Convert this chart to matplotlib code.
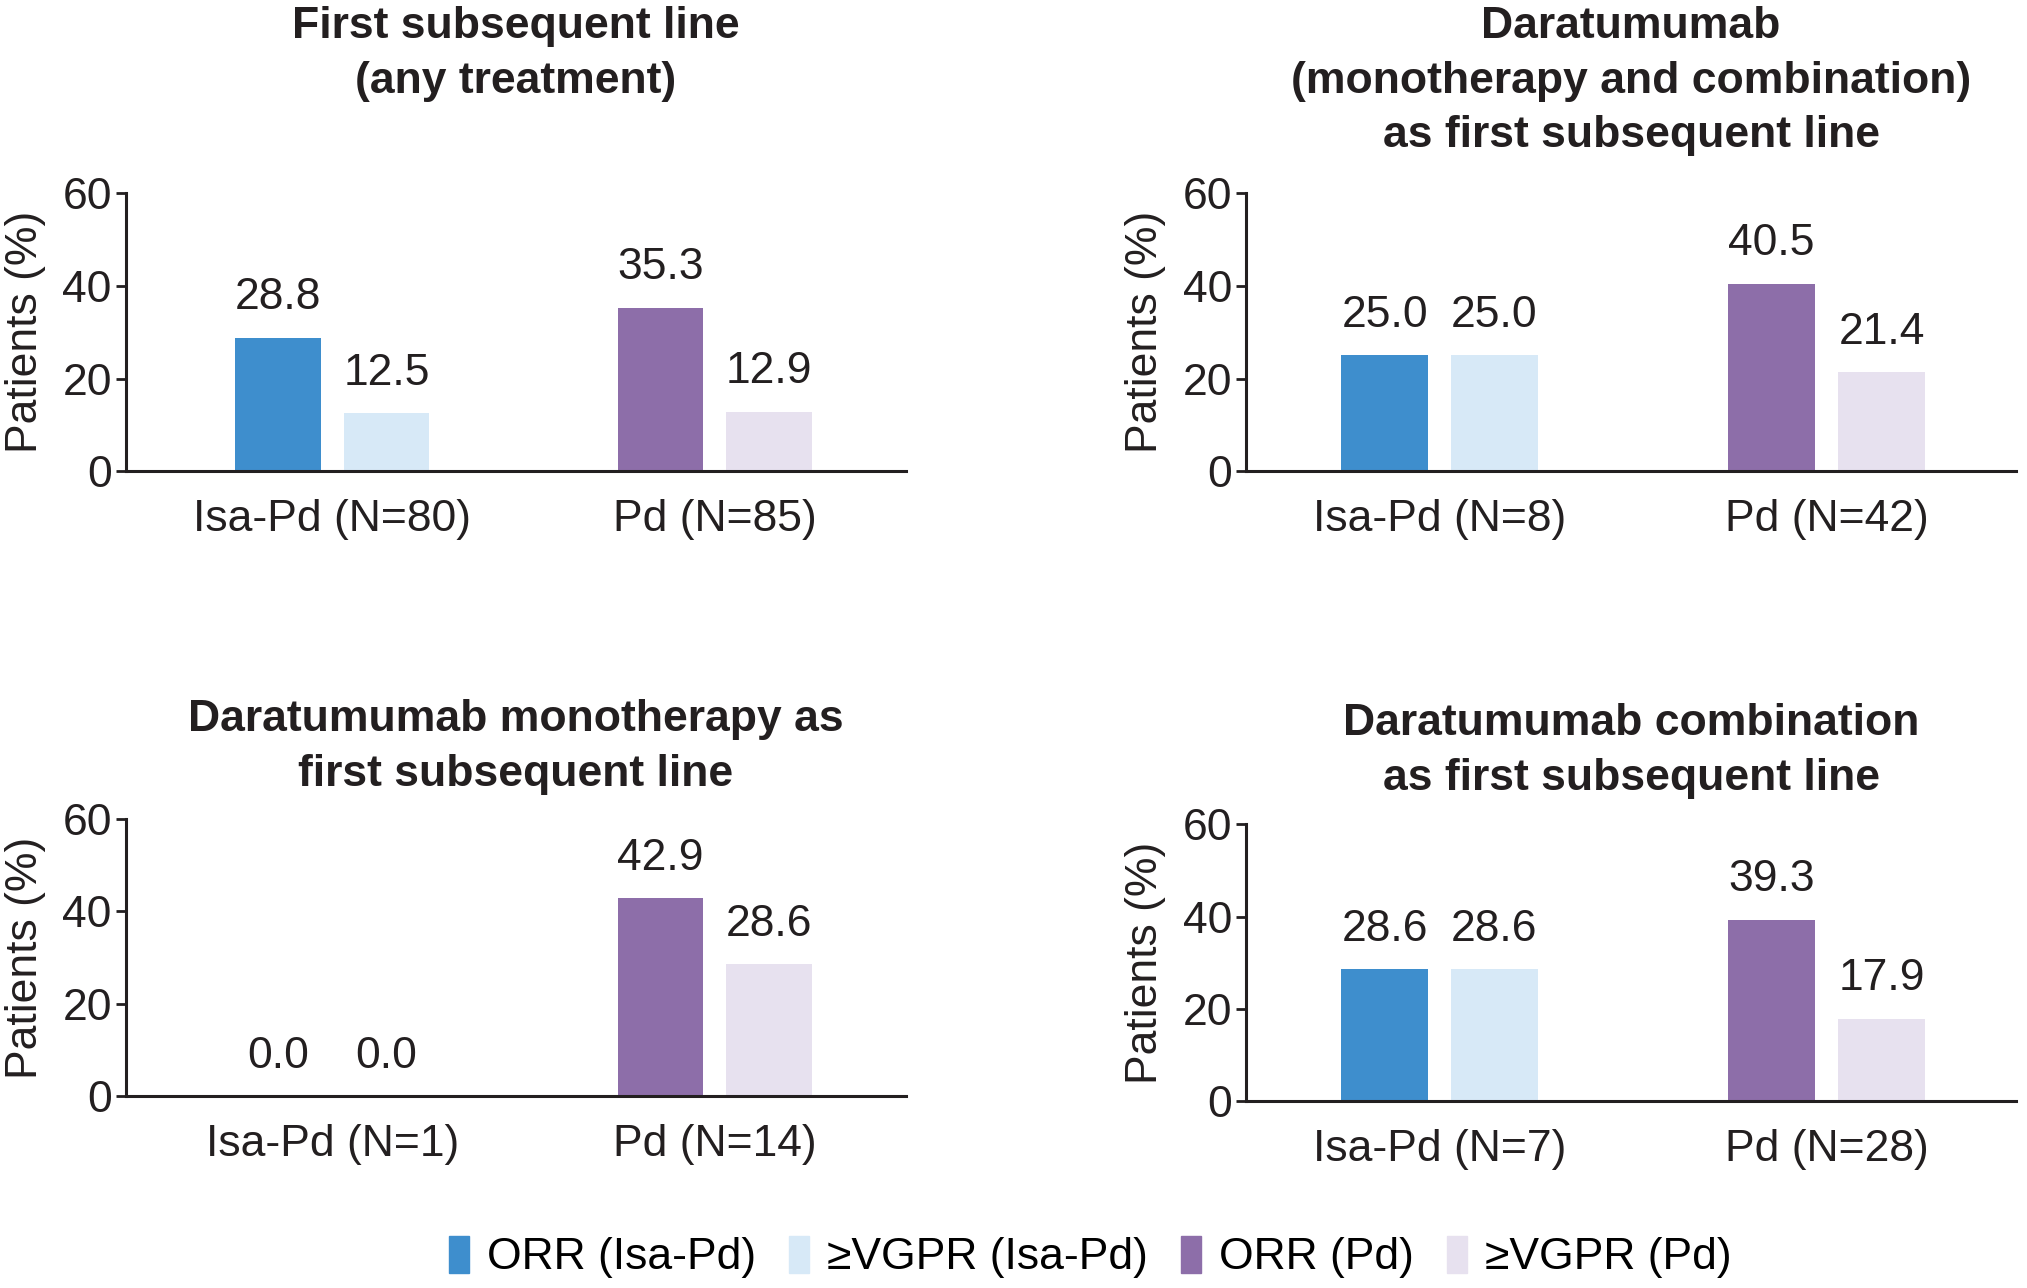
import matplotlib
matplotlib.use("Agg")
import matplotlib.pyplot as plt
import numpy as np

plt.rcParams["font.family"] = ["Liberation Sans", "DejaVu Sans"]

# data
titles = [
    "First subsequent line\n(any treatment)",
    "Daratumumab\n(monotherapy and combination)\nas first subsequent line",
    "Daratumumab monotherapy as\nfirst subsequent line",
    "Daratumumab combination\nas first subsequent line",
]
group_labels = [
    ["Isa-Pd (N=80)", "Pd (N=85)"],
    ["Isa-Pd (N=8)", "Pd (N=42)"],
    ["Isa-Pd (N=1)", "Pd (N=14)"],
    ["Isa-Pd (N=7)", "Pd (N=28)"],
]
orr = [
    [28.8, 35.3],
    [25.0, 40.5],
    [0.0, 42.9],
    [28.6, 39.3],
]
vgpr = [
    [12.5, 12.9],
    [25.0, 21.4],
    [0.0, 28.6],
    [28.6, 17.9],
]
legend_names = ["ORR (Isa-Pd)", "\u2265VGPR (Isa-Pd)", "ORR (Pd)", "\u2265VGPR (Pd)"]

dark = ["#3e8ecd", "#8d6ea9"]
light = ["#d7e9f7", "#e7e1ef"]

FS = 32

fig = plt.figure(figsize=(20.27, 12.88), dpi=100)

# axes boxes [left, bottom, width, height] in figure fraction
boxes = [
    [0.062, 0.634, 0.385, 0.216],
    [0.6147, 0.634, 0.380, 0.216],
    [0.062, 0.149, 0.385, 0.215],
    [0.6147, 0.145, 0.380, 0.215],
]
title_y = [0.995, 0.995, 0.457, 0.454]
xlims = [(-0.54, 1.5), (-0.50, 1.49), (-0.54, 1.5), (-0.50, 1.49)]

x = np.arange(2)
off = 0.142
w = 0.223

for i in range(4):
    ax = fig.add_axes(boxes[i])
    b1 = ax.bar(x - off, orr[i], w, color=dark)
    b2 = ax.bar(x + off, vgpr[i], w, color=light)
    ax.bar_label(b1, fmt="%.1f", padding=14, fontsize=FS, color="#231f20")
    ax.bar_label(b2, fmt="%.1f", padding=14, fontsize=FS, color="#231f20")

    ax.set_ylim(0, 60)
    ax.set_xlim(*xlims[i])
    ax.set_yticks([0, 20, 40, 60])
    ax.set_xticks(x)
    ax.set_xticklabels(group_labels[i])
    ax.tick_params(axis="y", labelsize=FS, length=7, width=2, pad=3, colors="#231f20")
    ax.tick_params(axis="x", labelsize=FS, length=0, pad=20, colors="#231f20")
    ax.set_ylabel("Patients (%)", fontsize=FS, labelpad=12, color="#231f20")
    for s in ["top", "right"]:
        ax.spines[s].set_visible(False)
    for s in ["left", "bottom"]:
        ax.spines[s].set_linewidth(2.2)
        ax.spines[s].set_color("#231f20")

    cx = boxes[i][0] + boxes[i][2] / 2
    fig.text(cx, title_y[i], titles[i], ha="center", va="top", fontsize=FS,
             fontweight="bold", color="#231f20", linespacing=1.42)

handles = [plt.Rectangle((0, 0), 1, 1, color=c) for c in [dark[0], light[0], dark[1], light[1]]]
fig.legend(handles, legend_names, loc="center", bbox_to_anchor=(0.538, 0.024), ncol=4,
           frameon=False, fontsize=FS, handlelength=0.45, handleheight=0.9,
           handletextpad=0.4, columnspacing=0.75)

fig.savefig("out.png", dpi=100, facecolor="white")
